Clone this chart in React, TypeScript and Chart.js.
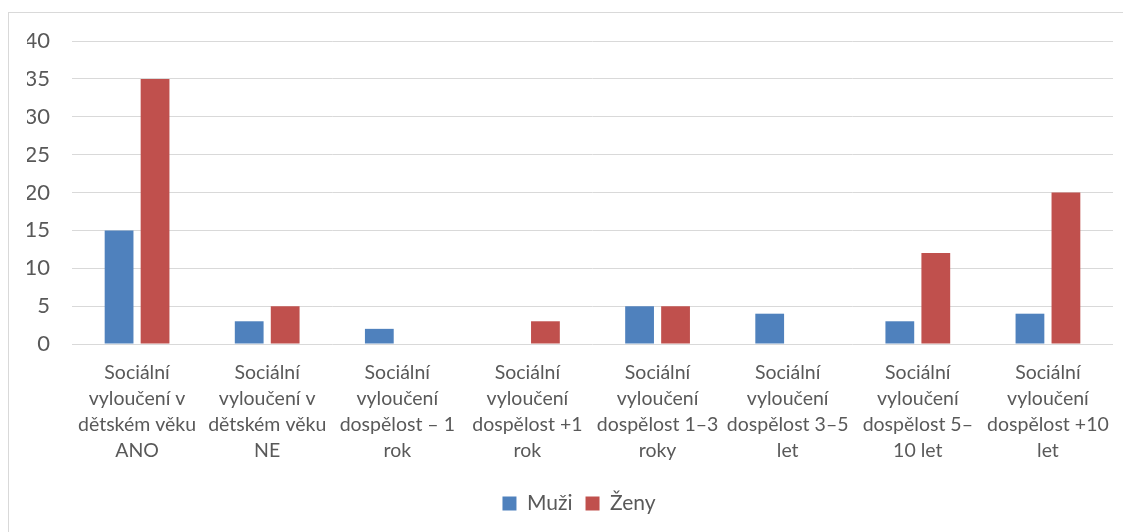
import React, { useEffect, useRef } from "react";
import { Chart, registerables } from "chart.js";

Chart.register(...registerables);

const categories: string[][] = [
  ["Sociální", "vyloučení v", "dětském věku", "ANO"],
  ["Sociální", "vyloučení v", "dětském věku", "NE"],
  ["Sociální", "vyloučení", "dospělost – 1", "rok"],
  ["Sociální", "vyloučení", "dospělost +1", "rok"],
  ["Sociální", "vyloučení", "dospělost 1–3", "roky"],
  ["Sociální", "vyloučení", "dospělost 3–5", "let"],
  ["Sociální", "vyloučení", "dospělost 5–", "10 let"],
  ["Sociální", "vyloučení", "dospělost +10", "let"],
];
const muzi: number[] = [15, 3, 2, 0, 5, 4, 3, 4];
const zeny: number[] = [35, 5, 0, 3, 5, 0, 12, 20];
const seriesNames: string[] = ["Muži", "Ženy"];

const FONT = "Lato, 'Open Sans', sans-serif";
const TEXT = "#595959";

export default function App() {
  const ref = useRef<HTMLCanvasElement | null>(null);
  useEffect(() => {
    if (!ref.current) return;
    const chart = new Chart(ref.current, {
      type: "bar",
      data: {
        labels: categories,
        datasets: [
          {
            label: seriesNames[0],
            data: muzi,
            backgroundColor: "#4F81BD",
            categoryPercentage: 0.553,
            barPercentage: 0.8,
          },
          {
            label: seriesNames[1],
            data: zeny,
            backgroundColor: "#C0504D",
            categoryPercentage: 0.553,
            barPercentage: 0.8,
          },
        ],
      },
      options: {
        animation: false,
        responsive: false,
        maintainAspectRatio: false,
        layout: { padding: { left: 18, right: 0, top: 28, bottom: 8 } },
        plugins: {
          tooltip: { enabled: false },
          legend: {
            position: "bottom",
            labels: {
              boxWidth: 14,
              boxHeight: 14,
              padding: 13,
              color: TEXT,
              font: { family: FONT, size: 21 },
            },
          },
        },
        scales: {
          x: {
            grid: { display: false, drawTicks: false },
            border: { display: false },
            ticks: {
              color: TEXT,
              padding: 16,
              maxRotation: 0,
              autoSkip: false,
              font: { family: FONT, size: 19.5, lineHeight: 1.333 },
            },
            afterFit: (s: any) => {
              s.height = 136;
            },
          },
          y: {
            min: 0,
            max: 40,
            ticks: {
              stepSize: 5,
              color: TEXT,
              padding: 22,
              font: { family: FONT, size: 22 },
            },
            grid: { color: "#d9d9d9", lineWidth: 1, drawTicks: false },
            border: { display: false },
            afterFit: (s: any) => {
              s.width = 45;
              s.paddingTop = 0;
              s.paddingBottom = 0;
            },
          },
          yRight: {
            position: "right",
            min: 0,
            max: 40,
            grid: { display: false, drawTicks: false },
            border: { display: false },
            ticks: { display: false },
            afterFit: (s: any) => {
              s.width = 18;
              s.paddingTop = 0;
              s.paddingBottom = 0;
            },
          },
        },
      },
    });
    return () => chart.destroy();
  }, []);
  return (
    <div style={{ paddingTop: 4 }}>
      <div
        style={{
          width: 1122,
          height: 519,
          borderTop: "1px solid #d9d9d9",
          borderLeft: "1px solid #d9d9d9",
          borderBottom: "1px solid #d9d9d9",
          background: "#fff",
        }}
      >
        <canvas ref={ref} width={1122} height={519} style={{ display: "block" }} />
      </div>
    </div>
  );
}
